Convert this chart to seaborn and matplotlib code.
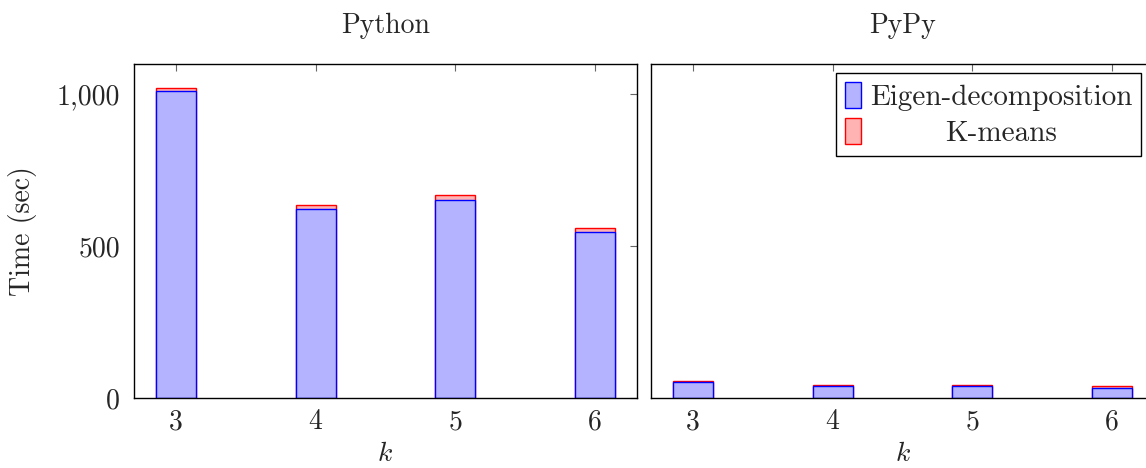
import numpy as np
import pandas as pd
import seaborn as sns
import matplotlib.pyplot as plt
from matplotlib.patches import Patch
from matplotlib.ticker import FuncFormatter

# values
k_values = [3, 4, 5, 6]
python_eigen = [1012, 624, 653, 545]
python_kmeans = [9, 10, 14, 15]
pypy_eigen = [54, 39, 40, 34]
pypy_kmeans = [3, 3, 4, 5]
systems = ["Python", "PyPy"]

blue_fill = "#b3b3ff"
red_fill = "#ffb3b3"

sns.set_theme(style="white")
plt.rcParams['font.family'] = ['cmr10']
plt.rcParams['mathtext.fontset'] = 'cm'
plt.rcParams['axes.unicode_minus'] = False

df = pd.DataFrame({
    "k": k_values * 2,
    "system": ["Python"] * 4 + ["PyPy"] * 4,
    "eigen": python_eigen + pypy_eigen,
    "kmeans": python_kmeans + pypy_kmeans,
})
df["total"] = df["eigen"] + df["kmeans"]

fig = plt.figure(figsize=(11.46, 4.68), dpi=100)
ax1 = fig.add_axes([0.1169, 0.1496, 0.4389, 0.7137])
ax2 = fig.add_axes([0.5681, 0.1496, 0.4389, 0.7137], sharey=ax1)

fs = 20
for ax, name in zip([ax1, ax2], systems):
    sub = df[df["system"] == name]
    # stacked: draw total (red) first, then eigen (blue) on top
    sns.barplot(data=sub, x="k", y="total", native_scale=True, width=0.286,
                color=red_fill, saturation=1, edgecolor="red", linewidth=1,
                errorbar=None, ax=ax)
    sns.barplot(data=sub, x="k", y="eigen", native_scale=True, width=0.286,
                color=blue_fill, saturation=1, edgecolor="blue", linewidth=1,
                errorbar=None, ax=ax)
    ax.set_xlim(2.7, 6.3)
    ax.set_ylim(0, 1100)
    ax.set_xticks(k_values)
    ax.set_yticks([0, 500, 1000])
    ax.yaxis.set_major_formatter(FuncFormatter(lambda v, p: f"{int(v):,}"))
    ax.tick_params(direction="in", top=True, right=True, length=5, width=0.8,
                   color="#666666", labelsize=fs)
    ax.tick_params(axis="x", pad=8)
    ax.tick_params(axis="y", pad=10)
    for s in ax.spines.values():
        s.set_color("black")
        s.set_linewidth(1)
    ax.set_xlabel("$k$", fontsize=fs, labelpad=4)
    ax.set_ylabel("")
    ax.set_title(name, fontsize=fs, pad=22)

ax1.set_ylabel("Time (sec)", fontsize=fs, labelpad=14)
ax2.tick_params(labelleft=False)

handles = [Patch(facecolor=blue_fill, edgecolor="blue", label="Eigen-decomposition"),
           Patch(facecolor=red_fill, edgecolor="red", label="K-means")]
leg = ax2.legend(handles=handles, loc="upper right", bbox_to_anchor=(0.974, 0.973),
                 borderaxespad=0, fancybox=False, edgecolor="black", framealpha=1,
                 prop={"family": "cmr10", "size": 21}, handlelength=0.55,
                 handleheight=1.0, handletextpad=0.3, borderpad=0.3, labelspacing=0.25)
leg.get_frame().set_linewidth(1)

# center the legend texts like pgfplots does
fig.canvas.draw()
r = fig.canvas.get_renderer()
texts = leg.get_texts()
widths = [t.get_window_extent(r).width for t in texts]
wmax = max(widths)
for t, w in zip(texts, widths):
    t.set_position(((wmax - w) / 2, 0))

fig.savefig("out.png", dpi=100)
